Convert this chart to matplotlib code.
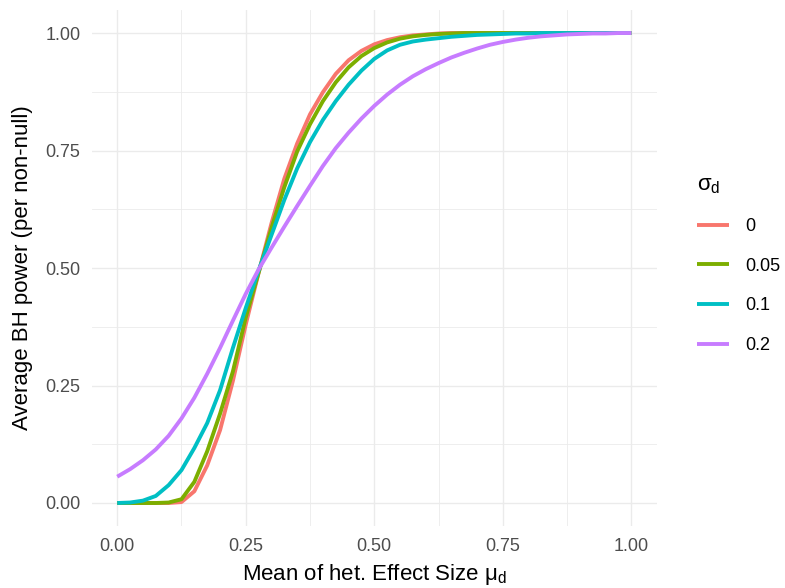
import numpy as np
import matplotlib
matplotlib.use("Agg")
from matplotlib import pyplot as plt

plt.rcParams['font.family'] = ['Liberation Sans', 'DejaVu Sans']
plt.rcParams['mathtext.fontset'] = 'custom'
plt.rcParams['mathtext.rm'] = 'Liberation Sans'
plt.rcParams['mathtext.it'] = 'Liberation Sans'

# mean effect size grid (read every 0.025)
mu = [0.0, 0.025, 0.05, 0.075, 0.1, 0.125, 0.15, 0.175, 0.2, 0.225,
      0.25, 0.275, 0.3, 0.325, 0.35, 0.375, 0.4, 0.425, 0.45, 0.475,
      0.5, 0.525, 0.55, 0.575, 0.6, 0.625, 0.65, 0.675, 0.7, 0.725,
      0.75, 0.775, 0.8, 0.825, 0.85, 0.875, 0.9, 0.925, 0.95, 0.975, 1.0]

power_0 = [0.0, 0.0, 0.0, 0.0, 0.0, 0.002, 0.025, 0.08, 0.155, 0.26,
           0.38, 0.49, 0.595, 0.69, 0.765, 0.827, 0.874, 0.913, 0.942, 0.962,
           0.976, 0.985, 0.991, 0.995, 0.997, 0.999, 1.0, 1.0, 1.0, 1.0,
           1.0, 1.0, 1.0, 1.0, 1.0, 1.0, 1.0, 1.0, 1.0, 1.0, 1.0]

power_005 = [0.0, 0.0, 0.0, 0.0, 0.001, 0.008, 0.045, 0.11, 0.19, 0.28,
             0.395, 0.49, 0.585, 0.672, 0.748, 0.806, 0.855, 0.895, 0.927, 0.951,
             0.968, 0.98, 0.988, 0.993, 0.996, 0.998, 0.999, 1.0, 1.0, 1.0,
             1.0, 1.0, 1.0, 1.0, 1.0, 1.0, 1.0, 1.0, 1.0, 1.0, 1.0]

power_01 = [0.0, 0.001, 0.005, 0.015, 0.038, 0.07, 0.117, 0.17, 0.24, 0.33,
            0.415, 0.495, 0.57, 0.645, 0.712, 0.768, 0.815, 0.855, 0.89, 0.92,
            0.945, 0.963, 0.975, 0.982, 0.986, 0.989, 0.992, 0.994, 0.996, 0.997,
            0.998, 0.999, 0.999, 1.0, 1.0, 1.0, 1.0, 1.0, 1.0, 1.0, 1.0]

power_02 = [0.056, 0.072, 0.091, 0.114, 0.143, 0.18, 0.224, 0.275, 0.33, 0.388,
            0.445, 0.497, 0.543, 0.588, 0.632, 0.675, 0.717, 0.755, 0.788, 0.818,
            0.845, 0.869, 0.89, 0.908, 0.923, 0.936, 0.948, 0.958, 0.967, 0.975,
            0.981, 0.986, 0.99, 0.993, 0.995, 0.997, 0.998, 0.999, 0.999, 1.0, 1.0]

sigma_labels = ['0', '0.05', '0.1', '0.2']
colors = ['#F8766D', '#7CAE00', '#00BFC4', '#C77CFF']
series = [power_0, power_005, power_01, power_02]

fig = plt.figure(figsize=(7.85, 5.88), dpi=100)
ax = fig.add_axes([0.1166, 0.1046, 0.837 - 0.1166, 0.9838 - 0.1046])

for vals, c, lab in zip(series, colors, sigma_labels):
    ax.plot(mu, vals, color=c, lw=2.8, label=lab, solid_capstyle='butt')

ax.set_xlim(-0.05, 1.05)
ax.set_ylim(-0.05, 1.05)
ticks = [0, 0.25, 0.5, 0.75, 1.0]
ax.set_xticks(ticks)
ax.set_yticks(ticks)
ax.set_xticklabels(['0.00', '0.25', '0.50', '0.75', '1.00'])
ax.set_yticklabels(['0.00', '0.25', '0.50', '0.75', '1.00'])
ax.set_xticks([0.125, 0.375, 0.625, 0.875], minor=True)
ax.set_yticks([0.125, 0.375, 0.625, 0.875], minor=True)
ax.grid(which='major', color='#EBEBEB', lw=1.0)
ax.grid(which='minor', color='#EBEBEB', lw=0.6)
ax.set_axisbelow(True)
for s in ax.spines.values():
    s.set_visible(False)
ax.tick_params(which='both', length=0, pad=8, labelsize=13, labelcolor='#4D4D4D')

ax.set_xlabel(r'Mean of het. Effect Size $\mu_\mathrm{d}$', fontsize=16, labelpad=5)
ax.set_ylabel('Average BH power (per non-null)', fontsize=16, labelpad=9)

leg = ax.legend(title=r'$\sigma_\mathrm{d}$', loc='center left',
                bbox_to_anchor=(0.8784, 0.551), bbox_transform=fig.transFigure,
                frameon=False, fontsize=13, title_fontsize=16,
                handlelength=1.8, handletextpad=0.9, labelspacing=1.25,
                borderaxespad=0)
leg._legend_box.align = 'left'

fig.savefig('out.png', dpi=100)
